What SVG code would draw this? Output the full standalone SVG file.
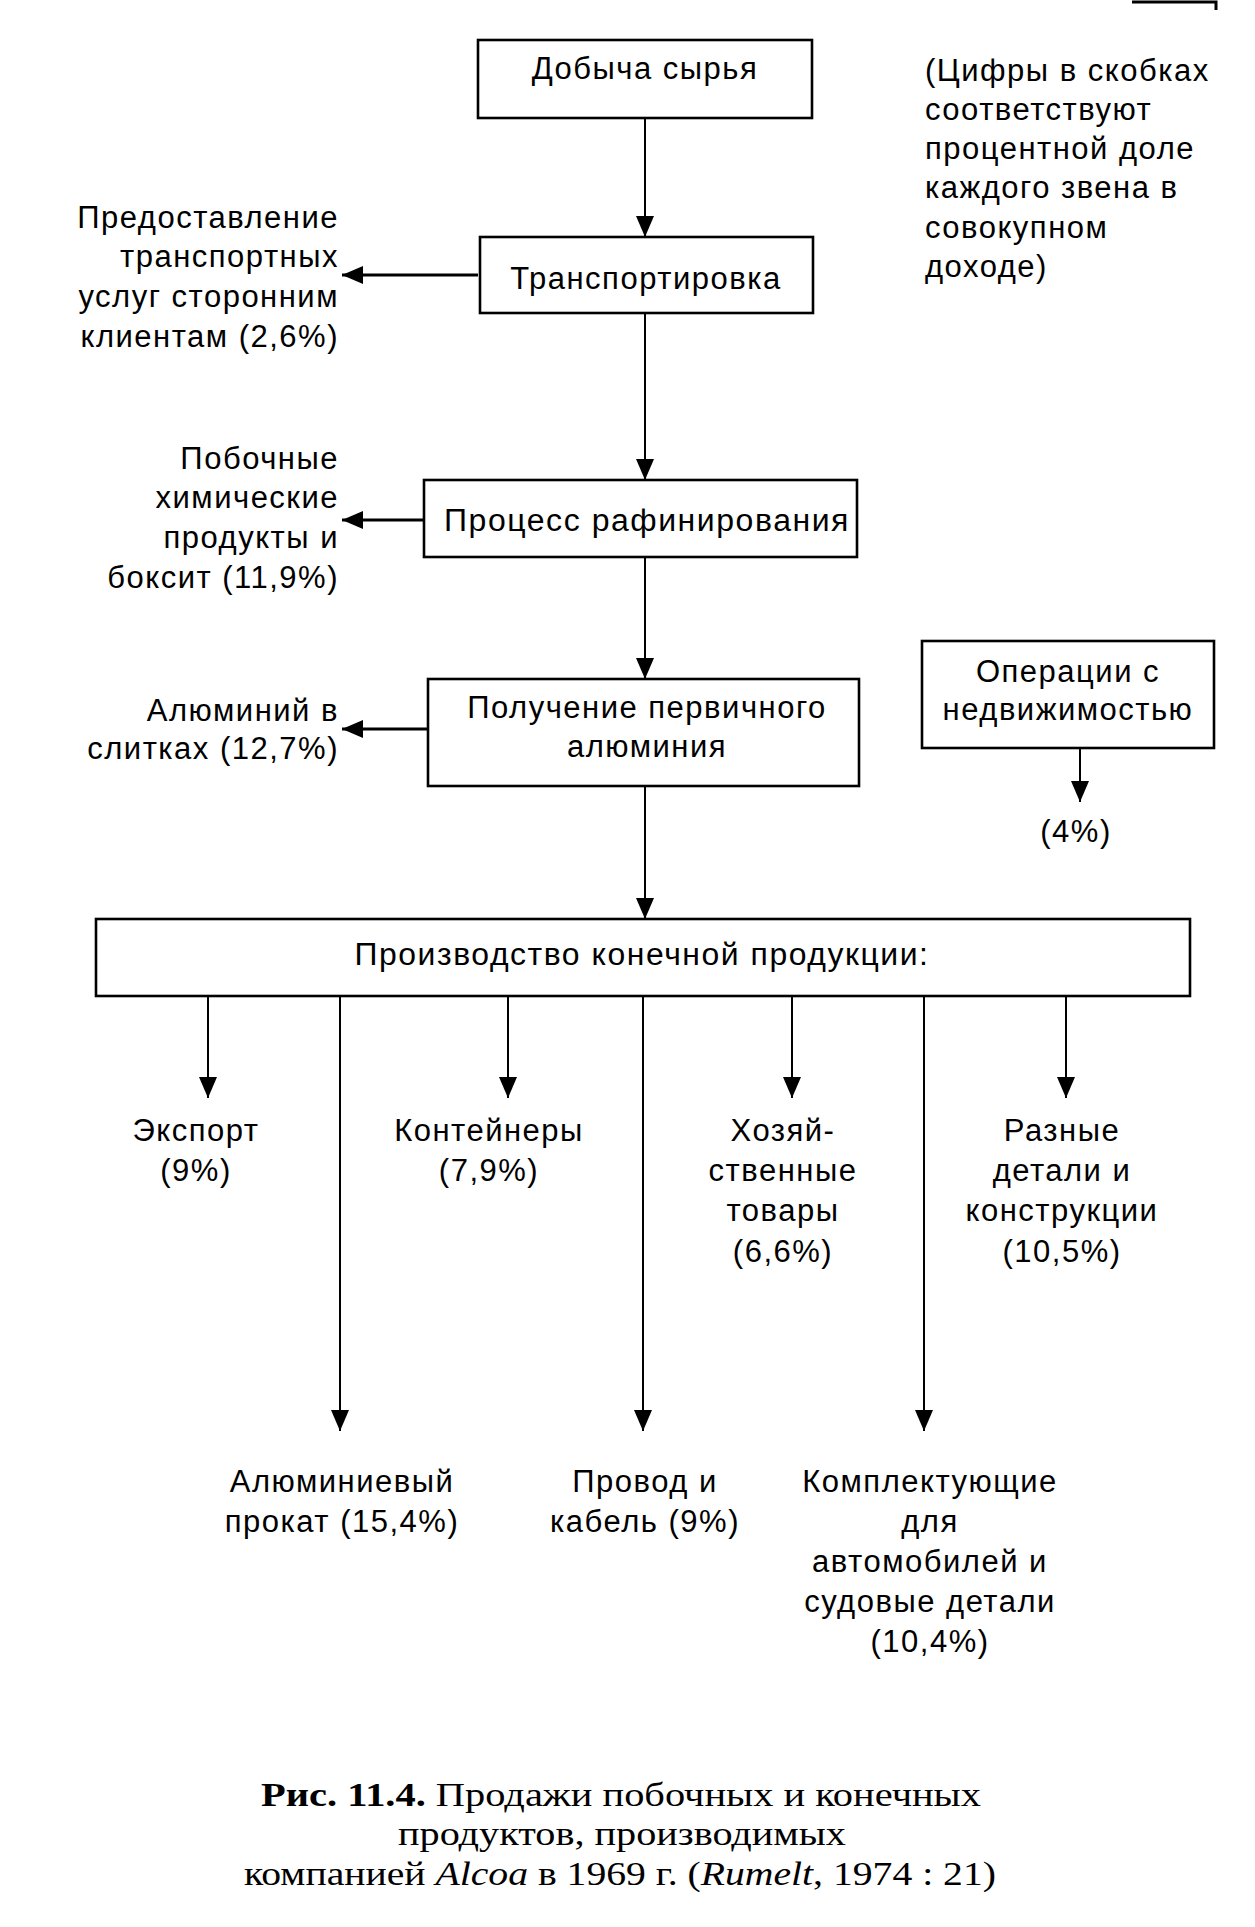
<svg xmlns="http://www.w3.org/2000/svg" width="1255" height="1927" viewBox="0 0 1255 1927">
<style>
.box{fill:#fff;stroke:#000;stroke-width:2.6}
.t{font-family:"Liberation Sans",Arial,sans-serif;font-size:31px;letter-spacing:1.5px;fill:#000}
.m{text-anchor:middle}
.e{text-anchor:end}
.ln{stroke:#000;stroke-width:2;fill:none}
.lt{stroke:#000;stroke-width:3;fill:none}
.cap{font-family:"Liberation Serif","Times New Roman",serif;font-size:34px;fill:#000;text-anchor:middle}
</style>
<defs>
<marker id="ah" markerUnits="userSpaceOnUse" markerWidth="22" markerHeight="20" refX="21" refY="10" orient="auto">
<path d="M0,1 L21,10 L0,19 z" fill="#000"/>
</marker>
</defs>
<rect width="1255" height="1927" fill="#fff"/>
<path d="M1132,2 H1216 V10" stroke="#000" stroke-width="3" fill="none"/>

<g id="connectors">
<path class="ln" d="M645,118 V237" marker-end="url(#ah)"/>
<path class="lt" d="M478,275 H342" marker-end="url(#ah)"/>
<path class="ln" d="M645,313 V480" marker-end="url(#ah)"/>
<path class="lt" d="M424,520 H342" marker-end="url(#ah)"/>
<path class="ln" d="M645,557 V679" marker-end="url(#ah)"/>
<path class="lt" d="M428,729 H342" marker-end="url(#ah)"/>
<path class="ln" d="M645,786 V919" marker-end="url(#ah)"/>
<path class="ln" d="M1080,748 V802" marker-end="url(#ah)"/>
<path class="ln" d="M208,996 V1098" marker-end="url(#ah)"/>
<path class="ln" d="M508,996 V1098" marker-end="url(#ah)"/>
<path class="ln" d="M792,996 V1098" marker-end="url(#ah)"/>
<path class="ln" d="M1066,996 V1098" marker-end="url(#ah)"/>
<path class="ln" d="M340,996 V1431" marker-end="url(#ah)"/>
<path class="ln" d="M643,996 V1431" marker-end="url(#ah)"/>
<path class="ln" d="M924,996 V1431" marker-end="url(#ah)"/>
</g>

<g id="n-dobycha">
<rect class="box" x="478" y="40" width="334" height="78"/>
<text class="t m" x="645" y="79">Добыча сырья</text>
</g>
<g id="n-transport">
<rect class="box" x="480" y="237" width="333" height="76"/>
<text class="t m" x="646" y="289">Транспортировка</text>
</g>
<g id="n-refining">
<rect class="box" x="424" y="480" width="433" height="77"/>
<text class="t m" x="647" y="531" textLength="406" lengthAdjust="spacingAndGlyphs">Процесс рафинирования</text>
</g>
<g id="n-primary">
<rect class="box" x="428" y="679" width="431" height="107"/>
<text class="t m" x="647" y="718">Получение первичного</text>
<text class="t m" x="647" y="757">алюминия</text>
</g>
<g id="n-realestate">
<rect class="box" x="922" y="641" width="292" height="107"/>
<text class="t m" x="1068" y="682">Операции с</text>
<text class="t m" x="1068" y="720">недвижимостью</text>
</g>
<g id="n-final">
<rect class="box" x="96" y="919" width="1094" height="77"/>
<text class="t m" x="642" y="965" textLength="575" lengthAdjust="spacingAndGlyphs">Производство конечной продукции:</text>
</g>

<g id="note">
<text class="t" x="925" y="81">(Цифры в скобках</text>
<text class="t" x="925" y="120">соответствуют</text>
<text class="t" x="925" y="159">процентной доле</text>
<text class="t" x="925" y="198">каждого звена в</text>
<text class="t" x="925" y="238">совокупном</text>
<text class="t" x="925" y="277">доходе)</text>
</g>

<g id="l-transport">
<text class="t e" x="339" y="228">Предоставление</text>
<text class="t e" x="339" y="267">транспортных</text>
<text class="t e" x="339" y="307">услуг сторонним</text>
<text class="t e" x="339" y="347">клиентам (2,6%)</text>
</g>
<g id="l-chem">
<text class="t e" x="339" y="469">Побочные</text>
<text class="t e" x="339" y="508">химические</text>
<text class="t e" x="339" y="548">продукты и</text>
<text class="t e" x="339" y="588">боксит (11,9%)</text>
</g>
<g id="l-ingots">
<text class="t e" x="339" y="721">Алюминий в</text>
<text class="t e" x="339" y="759">слитках (12,7%)</text>
</g>
<g id="l-realestate">
<text class="t m" x="1076" y="842">(4%)</text>
</g>

<g id="l-export">
<text class="t m" x="196" y="1141">Экспорт</text>
<text class="t m" x="196" y="1181">(9%)</text>
</g>
<g id="l-containers">
<text class="t m" x="489" y="1141">Контейнеры</text>
<text class="t m" x="489" y="1181">(7,9%)</text>
</g>
<g id="l-household">
<text class="t m" x="783" y="1141">Хозяй-</text>
<text class="t m" x="783" y="1181">ственные</text>
<text class="t m" x="783" y="1221">товары</text>
<text class="t m" x="783" y="1262">(6,6%)</text>
</g>
<g id="l-various">
<text class="t m" x="1062" y="1141">Разные</text>
<text class="t m" x="1062" y="1181">детали и</text>
<text class="t m" x="1062" y="1221">конструкции</text>
<text class="t m" x="1062" y="1262">(10,5%)</text>
</g>
<g id="l-rolled">
<text class="t m" x="342" y="1492">Алюминиевый</text>
<text class="t m" x="342" y="1532">прокат (15,4%)</text>
</g>
<g id="l-wire">
<text class="t m" x="645" y="1492">Провод и</text>
<text class="t m" x="645" y="1532">кабель (9%)</text>
</g>
<g id="l-auto">
<text class="t m" x="930" y="1492">Комплектующие</text>
<text class="t m" x="930" y="1532">для</text>
<text class="t m" x="930" y="1572">автомобилей и</text>
<text class="t m" x="930" y="1612">судовые детали</text>
<text class="t m" x="930" y="1652">(10,4%)</text>
</g>

<g id="caption">
<text class="cap" x="621" y="1806" textLength="720" lengthAdjust="spacingAndGlyphs"><tspan font-weight="bold">Рис. 11.4.</tspan> Продажи побочных и конечных</text>
<text class="cap" x="622" y="1845" textLength="448" lengthAdjust="spacingAndGlyphs">продуктов, производимых</text>
<text class="cap" x="620" y="1885" textLength="752" lengthAdjust="spacingAndGlyphs">компанией <tspan font-style="italic">Alcoa</tspan> в 1969 г. (<tspan font-style="italic">Rumelt</tspan>, 1974 : 21)</text>
</g>
</svg>
